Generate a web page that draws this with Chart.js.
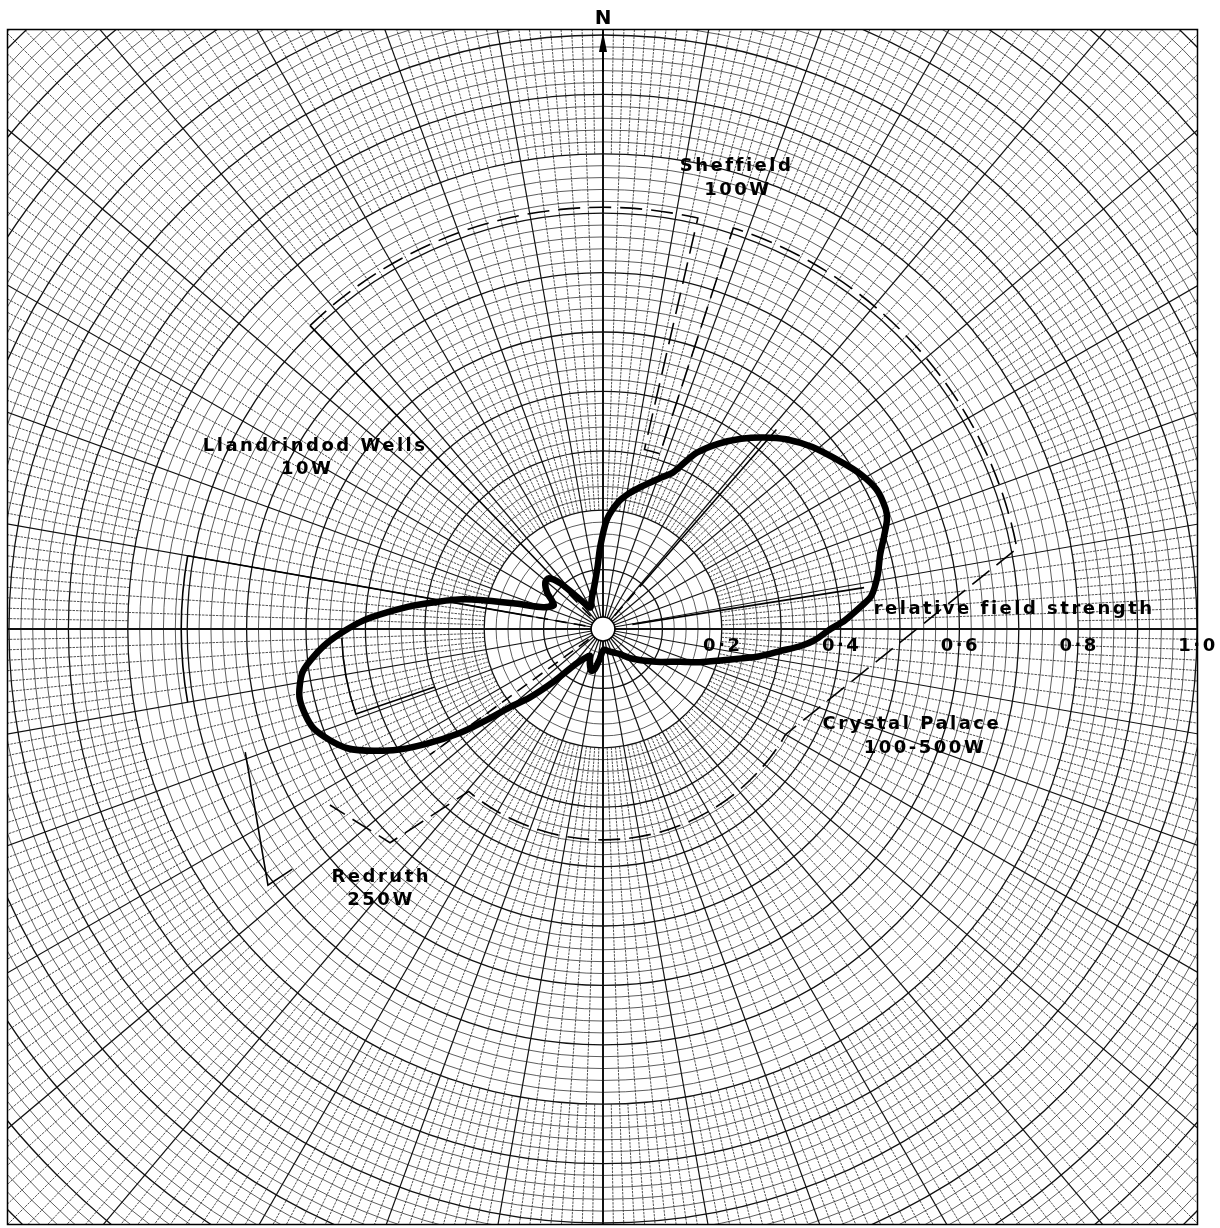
<!DOCTYPE html>
<html>
<head>
<meta charset="utf-8">
<script src="https://cdn.jsdelivr.net/npm/chart.js@4.4.1/dist/chart.umd.min.js"></script>
<style>
  html, body { margin: 0; padding: 0; background: #fff; }
  canvas { display: block; }
</style>
</head>
<body>
<canvas id="polar" width="1220" height="1228"></canvas>
<script>
// ---- data -------------------------------------------------------------
// one angular category per degree of bearing, clockwise from north
const bearings = Array.from({ length: 360 }, (_, i) => String(i));

// measured horizontal radiation pattern (relative field strength)
const patternBearing = [2, 7, 11, 15, 21, 24, 26, 28, 32, 36, 40, 44, 49, 55, 59, 63, 67, 69, 72, 75,
  79, 83, 85, 88, 90, 93, 95, 97, 100, 102, 105, 109, 113, 120, 127, 137, 146, 163, 178, 186,
  192, 196, 201, 206, 212, 218, 223, 227, 230, 232, 234, 237, 240, 245, 251, 257, 262, 267, 272, 277,
  282, 286, 290, 296, 303, 309, 313, 317, 321, 327, 330, 341, 348, 355, 358];
const patternField = [0.184, 0.216, 0.233, 0.248, 0.273, 0.288, 0.311, 0.336, 0.368, 0.396, 0.421, 0.444, 0.467, 0.490, 0.506, 0.517, 0.517, 0.512, 0.497, 0.483,
  0.471, 0.455, 0.436, 0.407, 0.383, 0.357, 0.333, 0.302, 0.266, 0.238, 0.205, 0.172, 0.141, 0.111, 0.089, 0.067, 0.051, 0.040, 0.035, 0.050,
  0.070, 0.073, 0.062, 0.050, 0.058, 0.075, 0.120, 0.170, 0.205, 0.250, 0.298, 0.355, 0.408, 0.475, 0.515, 0.524, 0.510, 0.466, 0.404, 0.322,
  0.240, 0.157, 0.107, 0.092, 0.112, 0.125, 0.125, 0.105, 0.070, 0.045, 0.042, 0.057, 0.072, 0.105, 0.138];

// field-strength axis ticks along the east radius
const tickValues = [0.2, 0.4, 0.6, 0.8, 1.0];
const tickLabels = ['0·2', '0·4', '0·6', '0·8', '1·0'];

// limit outlines: [bearing°, relative field]; equal fields are joined by an arc
const limitContour = [[316, 0.71], [373, 0.71], [373, 0.31], [378, 0.31], [378, 0.71], [439, 0.71],
  [480, 0.355], [579.6, 0.355], [584.9, 0.508], [597.2, 0.547]];
const redruthCorner = [[251, 0.637], [232.6, 0.71], [232.3, 0.661]];
const westArc = [[280, 0.71], [260, 0.71]];
const westInner = [[251, 0.30], [251, 0.44], [268, 0.44]];
// bearings of the other stations, drawn as rays from the pole
const rayLines = [[[316, 0.1], [316, 0.71]], [[280, 0.12], [280, 0.71]], [[41, 0.1], [41, 0.445]], [[81, 0.05], [81, 0.445]]];
const rayDashed = [[[234, 0.03], [234, 0.36]], [[316, 0.03], [316, 0.1]], [[280, 0.03], [280, 0.12]], [[41, 0.03], [41, 0.1]]];

// station captions: text, bearing°, relative distance
const stationText = ['Sheffield', '100W', 'Llandrindod Wells', '10W', 'Crystal Palace', '100-500W', 'Redruth', '250W'];
const stationBearing = [16.1, 17.1, 302.4, 298.4, 107.1, 110.3, 221.8, 219.3];
const stationDistance = [0.811, 0.773, 0.574, 0.566, 0.544, 0.578, 0.560, 0.590];

// ---- layout ------------------------------------------------------------
const CX = 603, CY = 629;          // pole of the diagram
const UNIT = 594;                  // pixels for relative field 1.0
const R_MAX = 1.44;                // graph paper reaches the corners
const FRAME = { left: 7, top: 29, right: 1197, bottom: 1224 };
const FONT = '"DejaVu Sans", sans-serif';

// radial rulings of the paper: angular step and radius where they start
const rulings = [
  { step: 2, from: 0.2 },
  { step: 1, from: 0.8 }
];

const hund = v => Math.round(v * 100);
const heavyCircle = v => hund(v) % 10 === 0 || hund(v) === 2;

function arcAngle(b) { return (b - 90) * Math.PI / 180; }

function strokePolar(ctx, s, pts) {
  ctx.beginPath();
  const p0 = s.getPointPositionForValue(pts[0][0], pts[0][1]);
  ctx.moveTo(p0.x, p0.y);
  for (let i = 1; i < pts.length; i++) {
    const [b0, r0] = pts[i - 1];
    const [b1, r1] = pts[i];
    if (r0 === r1 && b0 !== b1) {
      ctx.arc(s.xCenter, s.yCenter, s.getDistanceFromCenterForValue(r1), arcAngle(b0), arcAngle(b1), b1 < b0);
    } else {
      const p = s.getPointPositionForValue(b1, r1);
      ctx.lineTo(p.x, p.y);
    }
  }
  ctx.stroke();
}

const paper = {
  id: 'paper',
  beforeDraw(chart) {
    const ctx = chart.ctx;
    ctx.save();
    ctx.fillStyle = '#fff';
    ctx.fillRect(0, 0, chart.width, chart.height);
    ctx.beginPath();
    ctx.rect(FRAME.left, FRAME.top, FRAME.right - FRAME.left, FRAME.bottom - FRAME.top);
    ctx.clip();
  },
  beforeDatasetsDraw(chart) {
    const ctx = chart.ctx, s = chart.scales.r;
    ctx.save();
    ctx.strokeStyle = '#262626';
    ctx.lineWidth = 0.8;
    ctx.setLineDash([2.5, 1]);
    for (const z of rulings) {
      for (let b = 0; b < 360; b += z.step) {
        if (b % 10 === 0) continue;
        if (z.step === 1 && b % 2 === 0) continue;
        const a = s.getPointPositionForValue(b, z.from);
        const e = s.getPointPositionForValue(b, R_MAX);
        ctx.beginPath();
        ctx.moveTo(a.x, a.y);
        ctx.lineTo(e.x, e.y);
        ctx.stroke();
      }
    }
    ctx.setLineDash([]);
    // open hub round the pole
    const hub = s.getDistanceFromCenterForValue(0.02);
    ctx.fillStyle = '#fff';
    ctx.beginPath();
    ctx.arc(s.xCenter, s.yCenter, hub, 0, Math.PI * 2);
    ctx.fill();
    ctx.strokeStyle = '#000';
    ctx.lineWidth = 1.5;
    ctx.stroke();
    // limit outlines and station bearings
    ctx.lineWidth = 1.6;
    ctx.setLineDash([22, 9]);
    strokePolar(ctx, s, limitContour);
    ctx.setLineDash([]);
    [redruthCorner, westArc, westInner, ...rayLines].forEach(p => strokePolar(ctx, s, p));
    ctx.setLineDash([12, 7]);
    rayDashed.forEach(p => strokePolar(ctx, s, p));
    ctx.restore();
  },
  afterDraw(chart) {
    const ctx = chart.ctx, s = chart.scales.r;
    ctx.restore();
    ctx.save();
    // frame of the sheet
    ctx.strokeStyle = '#000';
    ctx.lineWidth = 1.5;
    ctx.strokeRect(FRAME.left + 0.5, FRAME.top + 0.5, FRAME.right - FRAME.left, FRAME.bottom - FRAME.top);
    // north arrow
    const tip = s.getPointPositionForValue(0, 1.005);
    ctx.fillStyle = '#000';
    ctx.beginPath();
    ctx.moveTo(tip.x, tip.y);
    ctx.lineTo(tip.x - 4, tip.y + 20);
    ctx.lineTo(tip.x + 4, tip.y + 20);
    ctx.closePath();
    ctx.fill();
    ctx.lineWidth = 2;
    ctx.beginPath();
    ctx.moveTo(tip.x, tip.y);
    ctx.lineTo(tip.x, tip.y + 40);
    ctx.stroke();

    ctx.textAlign = 'center';
    ctx.textBaseline = 'middle';
    ctx.font = 'bold 20px ' + FONT;
    ctx.fillText('N', tip.x, FRAME.top - 10);

    ctx.letterSpacing = '2.5px';
    ctx.font = 'bold 18px ' + FONT;
    tickValues.forEach((v, i) => {
      const p = s.getPointPositionForValue(90, v);
      ctx.fillText(tickLabels[i], p.x + 1, p.y + 17);
    });
    const axisLabel = s.getPointPositionForValue(87.2, 0.693);
    ctx.fillText('relative field strength', axisLabel.x, axisLabel.y);

    stationText.forEach((t, i) => {
      const p = s.getPointPositionForValue(stationBearing[i], stationDistance[i]);
      ctx.fillText(t, p.x, p.y);
    });
    ctx.restore();
  }
};

const fieldByBearing = bearings.map(() => null);
patternBearing.forEach((b, i) => { fieldByBearing[b % 360] = patternField[i]; });

new Chart(document.getElementById('polar'), {
  type: 'radar',
  data: {
    labels: bearings,
    datasets: [{
      label: 'relative field strength',
      data: fieldByBearing,
      spanGaps: true,
      borderColor: '#000',
      borderWidth: 6.5,
      borderJoinStyle: 'round',
      tension: 0.25,
      fill: false,
      pointRadius: 0,
      pointHoverRadius: 0
    }]
  },
  options: {
    responsive: false,
    animation: false,
    events: [],
    plugins: { legend: { display: false }, tooltip: { enabled: false } },
    scales: {
      r: {
        min: 0,
        max: R_MAX,
        startAngle: 0,
        ticks: { display: false, stepSize: 0.02 },
        pointLabels: { display: false },
        grid: {
          circular: true,
          color: c => heavyCircle(c.tick.value) ? '#111' : '#333',
          lineWidth: c => heavyCircle(c.tick.value) ? 1.3 : 0.8
        },
        angleLines: {
          color: '#111',
          lineWidth: c => (c.index % 90 === 0 ? 2 : (c.index % 10 === 0 ? 1.2 : 0))
        },
        afterFit(scale) {
          scale.xCenter = CX;
          scale.yCenter = CY;
          scale.drawingArea = UNIT * R_MAX;
        }
      }
    }
  },
  plugins: [paper]
});
</script>
</body>
</html>
